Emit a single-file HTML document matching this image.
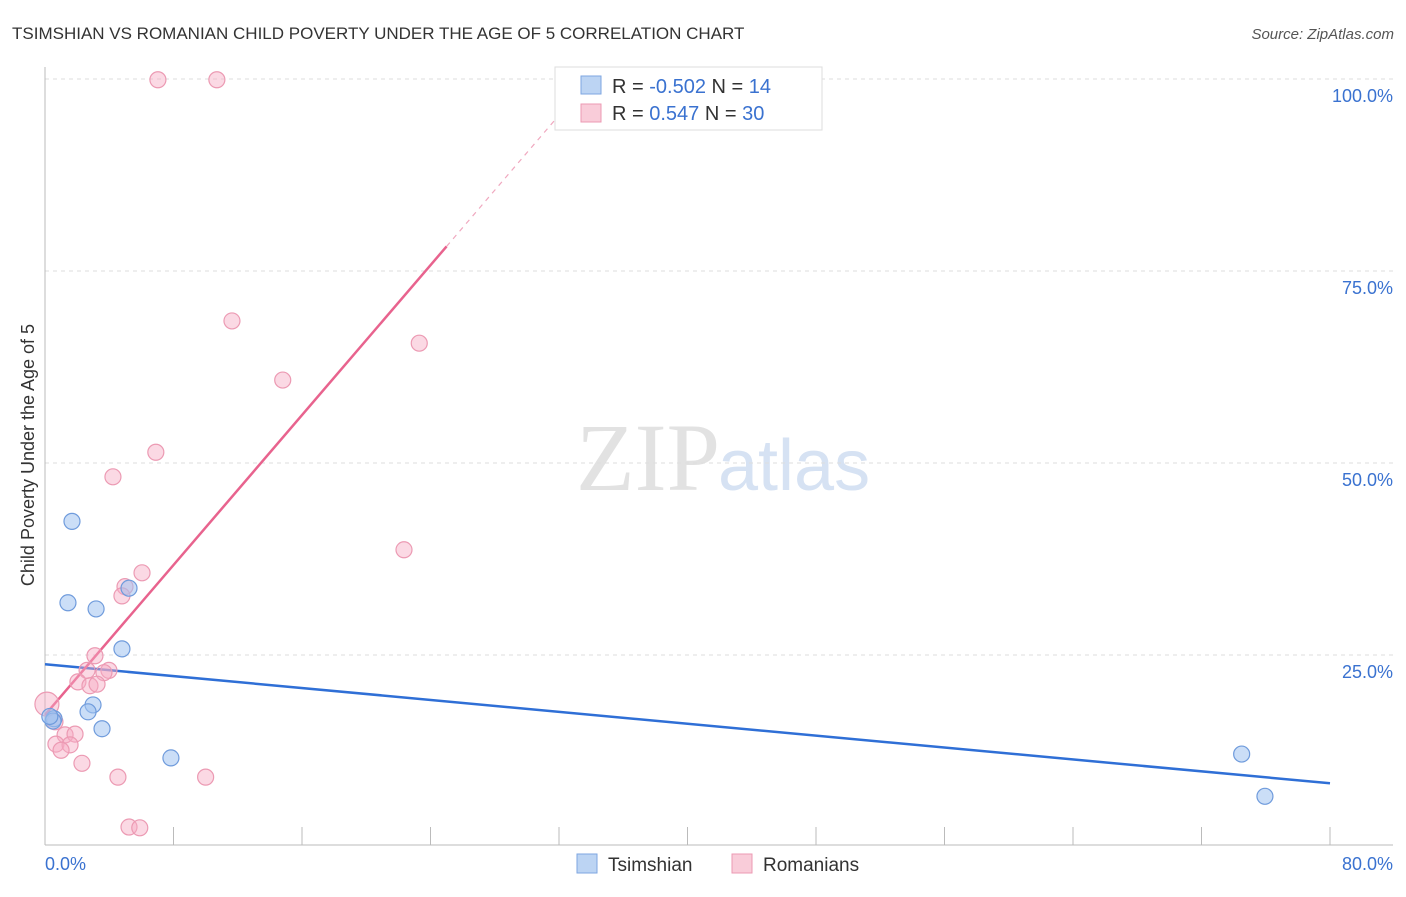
<!DOCTYPE html>
<html><head><meta charset="utf-8"><style>
body{margin:0;background:#fff;font-family:"Liberation Sans",sans-serif}
</style></head><body>
<svg width="1406" height="892" xmlns="http://www.w3.org/2000/svg" style="font-family:'Liberation Sans',sans-serif">
<text x="12" y="39" font-size="17" fill="#333">TSIMSHIAN VS ROMANIAN CHILD POVERTY UNDER THE AGE OF 5 CORRELATION CHART</text>
<text x="1394" y="39" font-size="15" fill="#555" font-style="italic" text-anchor="end">Source: ZipAtlas.com</text>
<text x="720" y="490" font-size="96" fill="#e2e2e2" text-anchor="end" font-family="Liberation Serif">ZIP</text>
<text x="718" y="490" font-size="72" fill="#d6e2f3">atlas</text>
<g id="grid"></g>
<g id="axes"></g>
<text transform="translate(34,455) rotate(-90)" font-size="18" fill="#333" text-anchor="middle">Child Poverty Under the Age of 5</text>
<g id="lines"></g>
<g id="pts"></g>
<g>
<rect x="555" y="67" width="267" height="63" fill="#fff" stroke="#ddd"/>
<rect x="581" y="76" width="20" height="18" fill="#bcd4f3" stroke="#7ea6e0"/>
<text x="612" y="93" font-size="20" fill="#333">R = <tspan fill="#3a72d0">-0.502</tspan>   N =  <tspan fill="#3a72d0">14</tspan></text>
<rect x="581" y="104" width="20" height="18" fill="#f9ccd9" stroke="#ec9ab3"/>
<text x="612" y="120" font-size="20" fill="#333">R =   <tspan fill="#3a72d0">0.547</tspan>   N = <tspan fill="#3a72d0">30</tspan></text>
</g>
<g>
<rect x="577" y="854" width="20" height="19" fill="#bcd4f3" stroke="#7ea6e0"/>
<text x="608" y="871" font-size="19" fill="#333">Tsimshian</text>
<rect x="732" y="854" width="20" height="19" fill="#f9ccd9" stroke="#ec9ab3"/>
<text x="763" y="871" font-size="19" fill="#333">Romanians</text>
</g>
</svg>
<script>
const yTicks=[25,50,75,100];
const yTickLabels=["25.0%","50.0%","75.0%","100.0%"];
const xTicks=[0,8,16,24,32,40,48,56,64,72,80];
const tsimX=[1.68,1.43,3.18,5.23,4.79,2.99,2.68,0.56,0.5,3.55,7.84,74.5,75.95,0.3];
const tsimY=[42.4,31.8,31.0,33.7,25.8,18.5,17.6,16.7,16.4,15.4,11.6,12.1,6.6,17.0];
const romX=[7.03,10.7,11.64,23.3,14.8,6.9,4.23,22.35,6.04,4.98,4.79,3.11,2.62,3.98,3.67,2.05,2.8,3.24,0.12,0.62,1.25,1.87,0.68,1.56,1.0,2.3,4.54,10.0,5.23,5.9];
const romY=[99.9,99.9,68.5,65.6,60.8,51.4,48.2,38.7,35.7,33.9,32.7,24.9,23.0,23.0,22.7,21.5,21.0,21.2,18.6,16.3,14.6,14.7,13.4,13.3,12.6,10.9,9.1,9.1,2.6,2.5];
const tsimTrend=[23.8,8.3];
const romTrend=[17.2,2.44];
const NS="http://www.w3.org/2000/svg";
const X=v=>45+v/80*1285, Y=v=>847-v/100*768;
function mk(p,t,a){const e=document.createElementNS(NS,t);for(const k in a)e.setAttribute(k,a[k]);document.getElementById(p).appendChild(e);return e;}
yTicks.forEach((t,i)=>{
 const l=mk('grid','line',{x1:45,x2:1393,y1:Y(t),y2:Y(t),stroke:'#ddd','stroke-dasharray':'4,4'});
 
 
 const tx=mk('grid','text',{x:1393,y:Y(t)+23,'font-size':18,fill:'#3a72d0','text-anchor':'end'});
 tx.textContent=yTickLabels[i];
 
 
});
const ax=mk('axes','line',{x1:45,x2:1393,y1:845,y2:845,stroke:'#bbb'});


const ay=mk('axes','line',{x1:45,x2:45,y1:67,y2:845,stroke:'#bbb'});


xTicks.forEach(t=>{
 const l=mk('axes','line',{x1:X(t),x2:X(t),y1:827,y2:845,stroke:'#bbb'});
 
 
});
const xl0=mk('axes','text',{x:45,y:870,'font-size':18,fill:'#3a72d0'});xl0.textContent='0.0%';


const xl1=mk('axes','text',{x:1393,y:870,'font-size':18,fill:'#3a72d0','text-anchor':'end'});xl1.textContent='80.0%';


const bl=mk('lines','line',{x1:X(0),y1:Y(tsimTrend[0]),x2:X(80),y2:Y(tsimTrend[1]),stroke:'#2f6fd6','stroke-width':2.5});


const xs=25,xe=(100-romTrend[0])/romTrend[1];
const pl=mk('lines','line',{x1:X(0),y1:Y(romTrend[0]),x2:X(xs),y2:Y(romTrend[0]+romTrend[1]*xs),stroke:'#e8638e','stroke-width':2.5});


const pd=mk('lines','line',{x1:X(xs),y1:Y(romTrend[0]+romTrend[1]*xs),x2:X(xe),y2:Y(100),stroke:'#f0a8bf','stroke-width':1.2,'stroke-dasharray':'5,5'});


romX.forEach((x,i)=>{
 const c=mk('pts','circle',{cx:X(x),cy:Y(romY[i]),r:i==18?12:8,fill:'rgba(246,170,195,0.45)',stroke:'#ec9ab3','stroke-width':1.2});
 
 
});
tsimX.forEach((x,i)=>{
 const c=mk('pts','circle',{cx:X(x),cy:Y(tsimY[i]),r:8,fill:'rgba(160,195,240,0.55)',stroke:'#6f9bdc','stroke-width':1.2});
 
 
});
</script>
</body></html>
